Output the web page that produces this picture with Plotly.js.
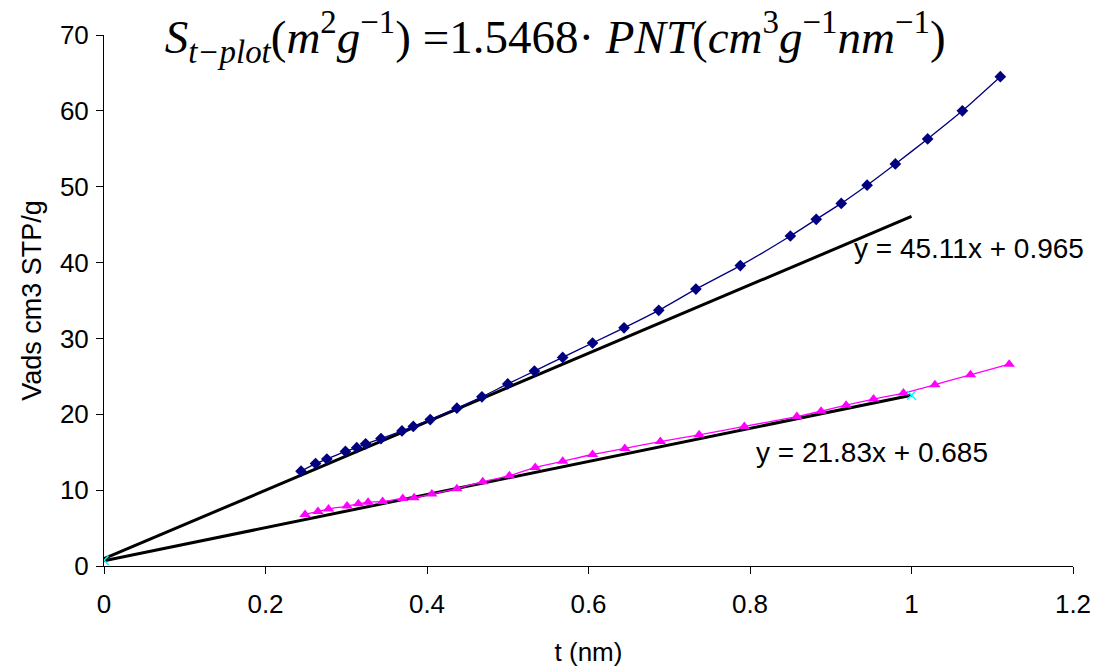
<!DOCTYPE html>
<html>
<head>
<meta charset="utf-8">
<script src="https://cdn.plot.ly/plotly-3.0.1.min.js"></script>
<style>html,body{margin:0;padding:0;background:#fff;}#chart{width:1095px;height:667px;}</style>
</head>
<body>
<div id="chart"></div>
<script>
// Sample A (navy diamonds)
const tA = [0.244,0.262,0.276,0.299,0.313,0.324,0.343,0.369,0.383,0.404,0.437,0.468,0.500,0.533,0.568,0.605,0.644,0.687,0.733,0.788,0.850,0.882,0.913,0.945,0.980,1.020,1.063,1.110];
const vA = [12.5,13.5,14.1,15.1,15.6,16.1,16.8,17.8,18.4,19.3,20.8,22.3,24.0,25.7,27.5,29.4,31.4,33.7,36.5,39.6,43.5,45.7,47.8,50.2,53.0,56.3,60.0,64.5];
// Sample B (magenta triangles)
const tB = [0.249,0.265,0.278,0.301,0.315,0.327,0.345,0.370,0.384,0.406,0.437,0.469,0.502,0.534,0.568,0.605,0.645,0.689,0.737,0.793,0.858,0.888,0.919,0.953,0.990,1.029,1.073,1.121];
const vB = [6.8,7.2,7.5,7.9,8.2,8.4,8.5,8.9,9.0,9.5,10.2,11.1,11.9,13.0,13.8,14.7,15.5,16.4,17.3,18.4,19.7,20.4,21.2,22.0,22.8,23.9,25.2,26.6];
// Cyan reference points
const tC = [0, 1];
const vC = [0.75, 22.5];
// Linear trendlines (slope, intercept) and their range
const fitRange = [0, 1];
const slopeA = 45.11, interceptA = 0.965;
const slopeB = 21.83, interceptB = 0.685;
const fitLabelA = "y = 45.11x + 0.965";
const fitLabelB = "y = 21.83x + 0.685";
const xTicks = [0, 0.2, 0.4, 0.6, 0.8, 1, 1.2];
const yTicks = [0, 10, 20, 30, 40, 50, 60, 70];

const fitA = fitRange.map(x => slopeA * x + interceptA);
const fitB = fitRange.map(x => slopeB * x + interceptB);

const traces = [
  {x: fitRange, y: fitA, mode: 'lines', line: {color: '#000000', width: 3}, hoverinfo: 'skip'},
  {x: fitRange, y: fitB, mode: 'lines', line: {color: '#000000', width: 3}, hoverinfo: 'skip'},
  {x: tA, y: vA, mode: 'lines+markers', line: {color: '#000080', width: 1.3, shape: 'spline', smoothing: 0.6},
   marker: {symbol: 'diamond', size: 9, color: '#000080'}},
  {x: tB, y: vB, mode: 'lines+markers', line: {color: '#FF00FF', width: 1.3, shape: 'spline', smoothing: 0.6},
   marker: {symbol: 'triangle-up', size: 10, color: '#FF00FF'}},
  {x: tC, y: vC, mode: 'markers', marker: {symbol: 'x-thin', size: 9, line: {color: '#00FFFF', width: 1.5}}}
];

const layout = {
  width: 1095, height: 667,
  paper_bgcolor: '#ffffff', plot_bgcolor: '#ffffff',
  margin: {l: 104, r: 22, t: 35, b: 101},
  showlegend: false,
  font: {family: 'Liberation Sans, Arial, sans-serif', size: 26, color: '#000'},
  title: {
    text: '<i>S</i><sub><i>t−plot</i></sub>(<i>m</i><sup>2</sup><i>g</i><sup>−1</sup>) =1.5468· <i>PNT</i>(<i>cm</i><sup>3</sup><i>g</i><sup>−1</sup><i>nm</i><sup>−1</sup>)',
    font: {family: 'Liberation Serif, Times New Roman, serif', size: 47, color: '#000'},
    x: 0.507, xanchor: 'center', xref: 'container',
    y: 0.945, yanchor: 'middle', yref: 'container'
  },
  xaxis: {
    range: [0, 1.2], tickvals: xTicks, ticktext: xTicks.map(String),
    showline: true, linecolor: '#000', linewidth: 1, mirror: false,
    ticks: 'outside', ticklen: 7, tickcolor: '#000', showgrid: false, zeroline: false,
    tickfont: {size: 26}, ticklabelstandoff: 8,
    title: {text: 't (nm)', font: {size: 26}, standoff: 26}
  },
  yaxis: {
    range: [0, 70], tickvals: yTicks,
    showline: true, linecolor: '#000', linewidth: 1, mirror: false,
    ticks: 'outside', ticklen: 7, tickcolor: '#000', showgrid: false, zeroline: false,
    tickfont: {size: 26}, ticklabelstandoff: 2,
    title: {text: 'Vads cm3 STP/g', font: {size: 27}, standoff: 10}
  },
  annotations: [
    {x: 0.926, y: 41.9, xref: 'x', yref: 'y', text: fitLabelA, showarrow: false, xanchor: 'left', yanchor: 'middle', font: {size: 28}},
    {x: 0.805, y: 14.9, xref: 'x', yref: 'y', text: fitLabelB, showarrow: false, xanchor: 'left', yanchor: 'middle', font: {size: 28}}
  ]
};

Plotly.newPlot('chart', traces, layout, {displayModeBar: false, staticPlot: true});
</script>
</body>
</html>
